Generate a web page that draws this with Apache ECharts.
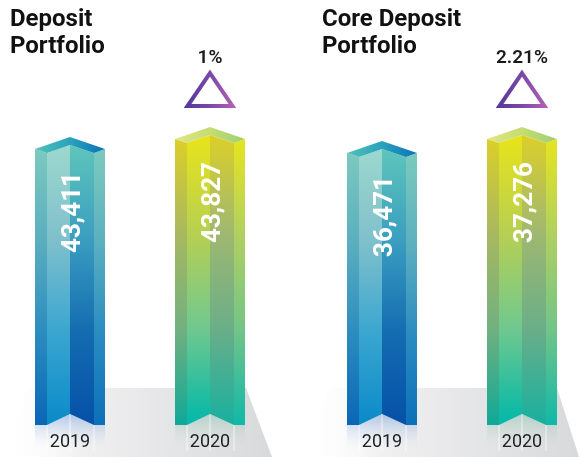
<!DOCTYPE html>
<html lang="en">
<head>
  <meta charset="UTF-8">
  <title>Deposit Portfolio</title>
  <style>
    html, body { width: 100%; height: 100%; padding: 0; margin: 0; background: #fff; }
    #eChart { width: 579px; height: 457px; }
  </style>
</head>
<body>
  <div id="eChart"></div>
  <script src="https://cdn.jsdelivr.net/npm/echarts@6/dist/echarts.min.js"></script>
  <script>
    var years = ['2019', '2020'];
    var depositValues = [43411, 43827];
    var coreDepositValues = [36471, 37276];
    var changeLabels = ['1%', '2.21%'];
    var panelTitles = ['Deposit\nPortfolio', 'Core Deposit\nPortfolio'];

    var FONT = 'Roboto, "Liberation Sans", sans-serif';

    function vgrad(stops) {
      return new echarts.graphic.LinearGradient(0, 0, 0, 1, stops.map(function (c, k) {
        return { offset: k / (stops.length - 1), color: c };
      }));
    }
    function hgrad(stops) {
      return new echarts.graphic.LinearGradient(0, 0, 1, 0, stops.map(function (c, k) {
        return { offset: k / (stops.length - 1), color: c };
      }));
    }

    // facet colours: outer left, inner left, inner right, outer right, cap, reflection
    var palettes = [
      {
        facets: [
          ['#7cc9bf', '#5aaebe', '#2b8cc0', '#0a66b5'],
          ['#9cd8cd', '#80c0cc', '#3aa6d0', '#0a8ac8'],
          ['#5ec5bb', '#3a9ec0', '#146cb0', '#0550a8'],
          ['#7ccabd', '#5cb0bf', '#2a8cc0', '#0b70b8']
        ],
        cap: ['#52c2b8', '#2aa2bc', '#0a72b8'],
        refl: ['rgba(30,100,200,0.32)', 'rgba(120,160,220,0.15)', 'rgba(255,255,255,0)']
      },
      {
        facets: [
          ['#dccf2a', '#a8b860', '#70b080', '#10a898'],
          ['#e8e41a', '#b8d050', '#70c890', '#00b8a8'],
          ['#dccf28', '#a0b870', '#6aae88', '#18b0a0'],
          ['#e6e41e', '#b0d060', '#72c488', '#10b8a8']
        ],
        cap: ['#e2e680', '#c4dc72', '#a0d070'],
        refl: ['rgba(60,170,140,0.28)', 'rgba(150,200,170,0.14)', 'rgba(255,255,255,0)']
      }
    ];

    function renderBar(changeText) {
      return function (params, api) {
        var i = params.dataIndex;
        var top = api.coord([api.value(0), api.value(1)]);
        var xc = top[0];
        var y = top[1];
        var bottom = params.coordSys.y + params.coordSys.height;
        var half = api.size([1, 0])[0] * 0.25;
        var x0 = xc - half, x1 = xc + half;
        var xl = x0 + 12, xr = x1 - 11;
        var pal = palettes[i];
        var children = [];

        // reflection under the bar
        children.push({
          type: 'polygon',
          shape: { points: [[x0, bottom], [xl, bottom], [xc, bottom - 11], [xr, bottom], [x1, bottom], [x1, bottom + 28], [x0, bottom + 28]] },
          style: { fill: vgrad(pal.refl) }
        });
        [xl, xc, xr].forEach(function (lx) {
          children.push({
            type: 'line',
            shape: { x1: lx, y1: bottom - (lx === xc ? 11 : 0), x2: lx, y2: bottom + 26 },
            style: { stroke: 'rgba(255,255,255,0.7)', lineWidth: 1 }
          });
        });

        var facets = [
          [[x0, y], [xl, y + 4], [xl, bottom], [x0, bottom]],
          [[xl, y + 4], [xc, y - 4], [xc, bottom - 11], [xl, bottom]],
          [[xc, y - 4], [xr, y + 4], [xr, bottom], [xc, bottom - 11]],
          [[xr, y + 4], [x1, y], [x1, bottom], [xr, bottom]]
        ];
        facets.forEach(function (pts, k) {
          children.push({
            type: 'polygon',
            shape: { points: pts },
            style: { fill: vgrad(pal.facets[k]) }
          });
        });
        // cap
        children.push({
          type: 'polygon',
          shape: { points: [[x0, y], [xc, y - 12], [x1, y], [xr, y + 4], [xc, y - 4], [xl, y + 4]] },
          style: { fill: hgrad(pal.cap) }
        });

        // value label, rotated
        children.push({
          type: 'text',
          x: xc + 3,
          y: y + 23,
          rotation: Math.PI / 2,
          style: {
            text: api.value(1).toLocaleString('en-US'),
            fill: '#fff',
            font: 'bold 26px ' + FONT,
            align: 'right',
            verticalAlign: 'middle'
          }
        });

        // change indicator above the later bar
        if (i === 1) {
          children.push({
            type: 'polygon',
            shape: { points: [[xc, y - 66], [xc + 22.5, y - 33], [xc - 22.5, y - 33]] },
            style: {
              fill: 'none',
              stroke: hgrad(['#55389c', '#7a48a8', '#b462b4']),
              lineWidth: 4,
              lineJoin: 'miter'
            }
          });
          children.push({
            type: 'text',
            x: xc,
            y: y - 81,
            style: {
              text: changeText,
              fill: '#1a1a1a',
              font: '600 19px ' + FONT,
              align: 'center',
              verticalAlign: 'middle'
            }
          });
        }
        return { type: 'group', children: children };
      };
    }

    function floor(points) {
      return {
        type: 'polygon',
        z: 0,
        shape: { points: points },
        style: {
          fill: new echarts.graphic.LinearGradient(0, 0, 1, 0, [
            { offset: 0, color: 'rgba(255,255,255,0)' },
            { offset: 0.3, color: '#f0f0f1' },
            { offset: 1, color: '#d8d9db' }
          ])
        }
      };
    }

    var chart = echarts.init(document.getElementById('eChart'));

    var xAxisBase = {
      type: 'category',
      data: years,
      z: 10,
      axisLine: { show: false },
      axisTick: { show: false },
      axisLabel: { fontSize: 18, color: '#222', margin: 8, fontFamily: FONT }
    };
    var yAxisBase = { type: 'value', show: false, splitLine: { show: false } };

    chart.setOption({
      animation: false,
      title: [
        { text: panelTitles[0], left: 10, top: 6, padding: 0,
          textStyle: { fontSize: 24, lineHeight: 27, fontWeight: 'bold', color: '#111', fontFamily: FONT } },
        { text: panelTitles[1], left: 322, top: 6, padding: 0,
          textStyle: { fontSize: 24, lineHeight: 27, fontWeight: 'bold', color: '#111', fontFamily: FONT } }
      ],
      graphic: {
        elements: [
          floor([[28, 388], [246, 388], [272, 457], [0, 457]]),
          floor([[330, 388], [557, 388], [579, 457], [300, 457]])
        ]
      },
      grid: [
        { left: 0, width: 280, top: 100, bottom: 32, outerBoundsMode: 'none' },
        { left: 312, width: 280, top: 100, bottom: 32, outerBoundsMode: 'none' }
      ],
      xAxis: [
        Object.assign({ gridIndex: 0 }, xAxisBase),
        Object.assign({ gridIndex: 1 }, xAxisBase)
      ],
      yAxis: [
        Object.assign({ gridIndex: 0, min: 31930, max: 45450 }, yAxisBase),
        Object.assign({ gridIndex: 1, min: 20830, max: 39520 }, yAxisBase)
      ],
      series: [
        {
          type: 'custom',
          xAxisIndex: 0,
          yAxisIndex: 0,
          renderItem: renderBar(changeLabels[0]),
          encode: { x: 0, y: 1 },
          data: depositValues.map(function (v, i) { return [i, v]; })
        },
        {
          type: 'custom',
          xAxisIndex: 1,
          yAxisIndex: 1,
          renderItem: renderBar(changeLabels[1]),
          encode: { x: 0, y: 1 },
          data: coreDepositValues.map(function (v, i) { return [i, v]; })
        }
      ]
    });
  </script>
</body>
</html>
